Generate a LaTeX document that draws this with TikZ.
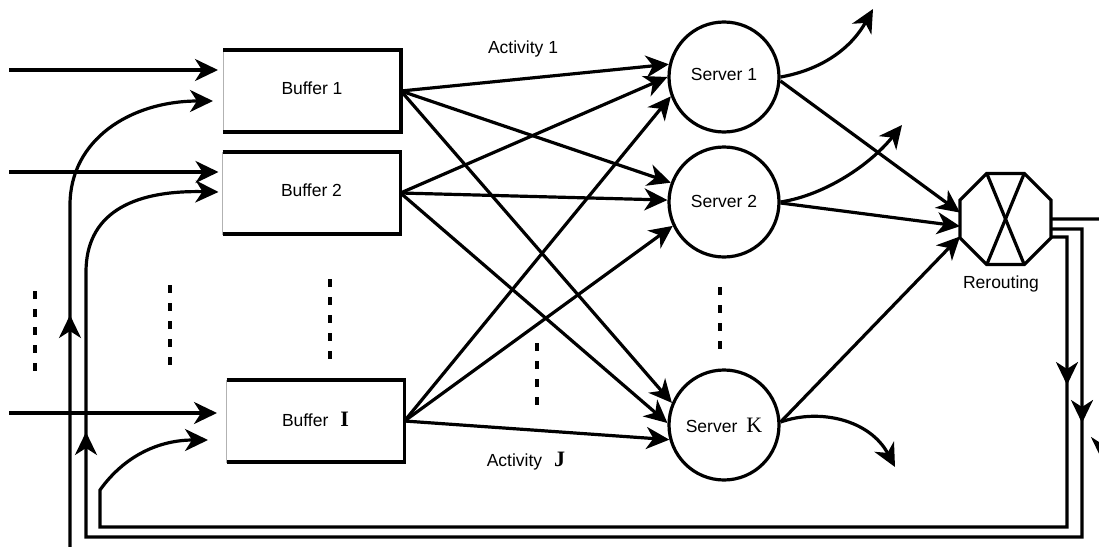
\documentclass[tikz,border=0pt]{standalone}
\usepackage{fontspec}
\setmainfont{Liberation Sans}
\newfontfamily\letterfont{Liberation Serif}
\usetikzlibrary{arrows.meta,shapes.geometric,calc,decorations.markings}

\newcommand{\bigletter}[1]{{\letterfont\fontsize{22pt}{24pt}\selectfont #1}}

\begin{document}
\begin{tikzpicture}[x=1pt,y=-1pt,
  line width=3.2pt,
  font=\fontsize{17.5pt}{20pt}\selectfont,
  tip/.style={-{Stealth[length=23pt,width=22pt,inset=7pt]}},
  bufbox/.style={minimum width=178pt, minimum height=82pt, inner sep=0pt,
    outer sep=0pt, draw=black!30, line width=0.8pt},
  server/.style={circle, draw, minimum size=110pt, inner sep=0pt},
  router/.style={regular polygon, regular polygon sides=8, minimum size=98.5pt,
    inner sep=0pt, outer sep=0pt, draw},
  vdots/.style={line width=4.5pt, dash pattern=on 8pt off 10pt},
  onetip/.style={postaction={decorate}, decoration={markings,
    mark=at position #1 with {\arrow{Stealth[length=23pt,width=22pt,inset=7pt]}}}},
  twotips/.style 2 args={postaction={decorate}, decoration={markings,
    mark=at position #1 with {\arrow{Stealth[length=23pt,width=22pt,inset=7pt]}},
    mark=at position #2 with {\arrow{Stealth[length=23pt,width=22pt,inset=7pt]}}}},
]
\clip (0,0) rectangle (1099,546);

% buffers
\node[bufbox] (b1) at (312,91) {\raisebox{5pt}{Buffer 1}};
\node[bufbox] (b2) at (311.5,193) {\raisebox{5pt}{Buffer 2}};
\node[bufbox] (bI) at (315.5,421) {\raisebox{3pt}{Buffer\hspace{12pt}\bigletter{\bfseries I}}};
\foreach \b in {b1,b2,bI}
  \draw (\b.north west) -- (\b.north east) -- (\b.south east) -- (\b.south west);

% servers
\node[server] (s1) at (724,77) {\raisebox{5pt}{Server 1}};
\node[server] (s2) at (724,202) {\raisebox{2pt}{Server 2}};
\node[server] (sK) at (724,425) {Server\hspace{9pt}\bigletter{K}};

% rerouting switch
\node[router] (r) at (1005.5,219) {};
\draw ($(r.center)+(-18.5,-45)$) -- ($(r.center)+(18.5,45)$);
\draw ($(r.center)+(18.5,-45)$) -- ($(r.center)+(-18.5,45)$);
\node (rl) at (1001,284) {Rerouting};

% activity labels
\node (a1) at (523,49) {Activity 1};
\node (aJ) at (526,461) {Activity\hspace{12pt}\bigletter{\bfseries J}};

% ellipsis marks
\draw[vdots] (35,291) -- (35,372);
\draw[vdots] (170,285) -- (170,367);
\draw[vdots] (330,279) -- (330,360);
\draw[vdots] (537,343) -- (537,407);
\draw[vdots] (720,287) -- (720,350);

% external arrivals
\coordinate (in1) at (9,70);
\coordinate (in2) at (9,172);
\coordinate (inI) at (9,413);
\draw[tip, shorten >=5pt] (in1) -- (in1 -| b1.west);
\draw[tip, shorten >=4pt] (in2) -- (in2 -| b2.west);
\draw[tip, shorten >=9.5pt] (inI) -- (inI -| bI.west);

% activities: buffers to servers
\draw[tip] (b1.east) -- (s1.167);
\draw[tip] (b1.east) -- (s2.160);
\draw[tip] (b1.east) -- (sK.157);
\draw[tip] (b2.east) -- (s1.180);
\draw[tip] (b2.east) -- (s2.178);
\draw[tip] (b2.east) -- (sK.178);
\draw[tip] (bI.east) -- (s1.200);
\draw[tip] (bI.east) -- (s2.205);
\draw[tip] (bI.east) -- (sK.195);

% departures
\coordinate (o1) at (873,9);
\coordinate (o2) at (902,125);
\coordinate (oK) at (895,467);
\draw[tip] (s1.east) .. controls (820,70) and (850,50) .. (o1);
\draw[tip] (s2.east) .. controls (825,195) and (870,165) .. (o2);
\draw[tip] (sK.3) .. controls (820,408) and (870,420) .. (oK);

% servers to rerouting
\draw[tip] (s1.-4) -- (r.172);
\draw[tip] (s2.-1) -- (r.189);
\draw[tip] (sK.3) -- (r.201);

% feedback loops
\draw[tip, twotips={292pt}{1669pt}] (r.east) -- (1102,219) -- (1102,560) -- (70,560) -- (70,205)
  .. controls (70,140) and (130,101) .. ($(b1.west)+(-10,10)$);
\draw[tip, twotips={225pt}{1440pt}] ($(r.east)+(0,10)$) -- (1082,229) -- (1082,537) -- (86,537) -- (86,272)
  .. controls (86,215) and (130,190) .. ($(b2.west)+(-4,-1)$);
\draw[tip, onetip={164pt}] ($(r.east)+(0,18)$) -- (1067,237) -- (1067,527) -- (100,527) -- (100,490)
  .. controls (125,455) and (160,440) .. ($(bI.west)+(-18.5,19)$);
\end{tikzpicture}
\end{document}
